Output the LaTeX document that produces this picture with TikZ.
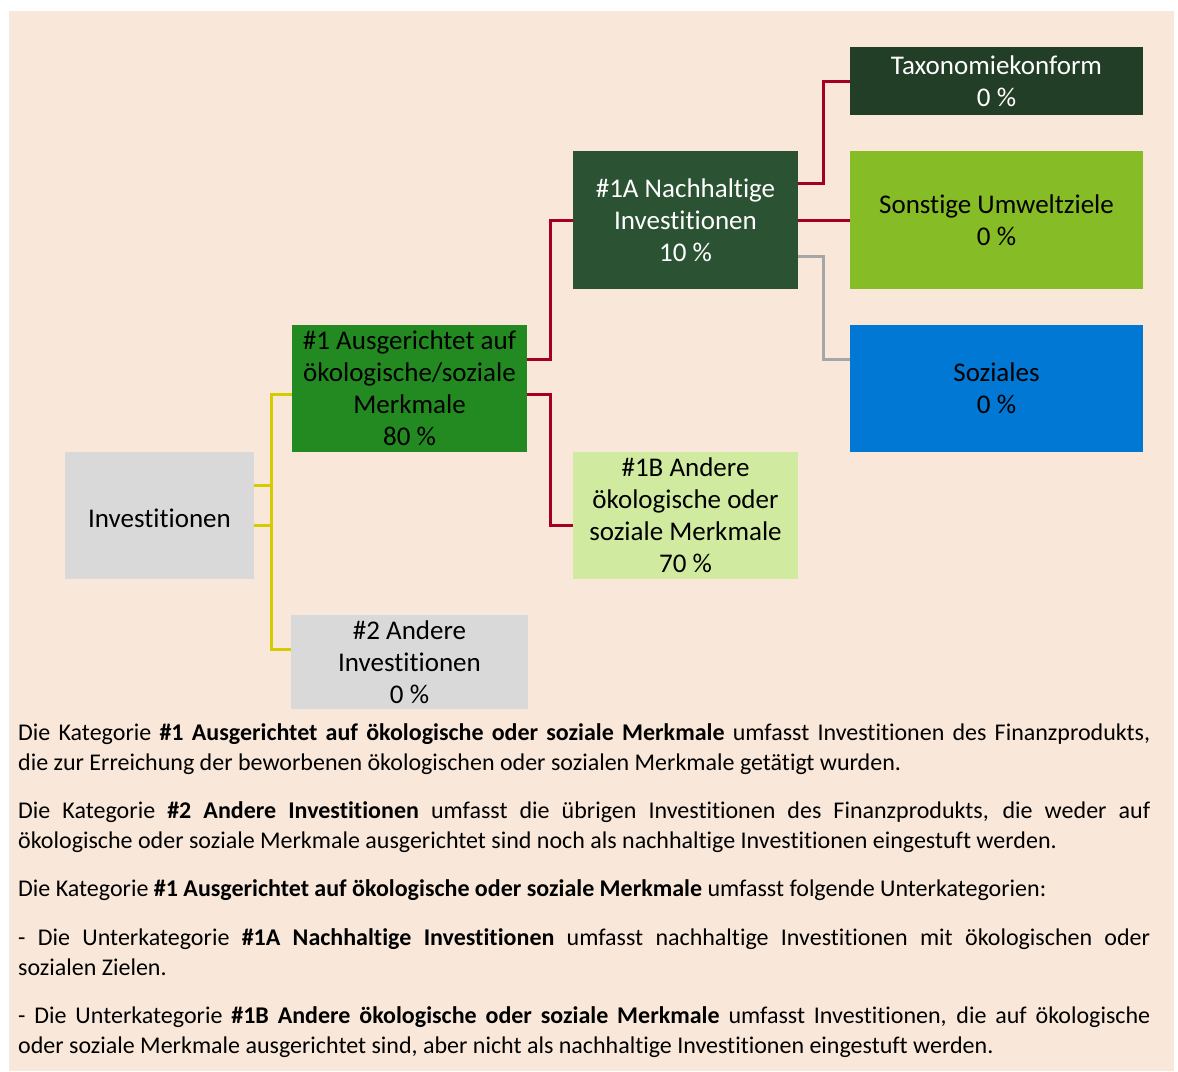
\documentclass[tikz,border=0pt]{standalone}
\usepackage{fontspec}
\setmainfont{Carlito}[Ligatures={NoCommon}]
\definecolor{bgpeach}{RGB}{249,232,217}
\definecolor{boxgray}{RGB}{217,217,217}
\definecolor{catgreen}{RGB}{35,138,34}
\definecolor{susgreen}{RGB}{44,82,52}
\definecolor{othergreen}{RGB}{208,235,160}
\definecolor{taxgreen}{RGB}{34,62,38}
\definecolor{envgreen}{RGB}{134,188,37}
\definecolor{socblue}{RGB}{0,120,212}
\definecolor{linered}{RGB}{165,0,33}
\definecolor{lineyellow}{RGB}{212,204,0}
\definecolor{linegray}{RGB}{166,166,166}
\begin{document}
\hyphenpenalty=10000
\exhyphenpenalty=10000
\begin{tikzpicture}[x=1pt, y=-1pt,
    box/.style={rectangle, inner sep=0pt, align=center, font=\fontsize{27}{32}\selectfont,
      execute at begin node=\rule{0pt}{25pt}},
    para/.style={anchor=base west, inner sep=0pt, text width=1132pt, align=justify,
      font=\fontsize{24}{30}\selectfont},
    redline/.style={draw=linered, line width=3pt},
    yellowline/.style={draw=lineyellow, line width=3pt},
    grayline/.style={draw=linegray, line width=3pt}]
  \useasboundingbox (0,0) rectangle (1178,1071);
  \fill [bgpeach] (9,11) rectangle (1174,1071);

  \node (inv) [box, fill=boxgray, minimum width=189pt, minimum height=127pt] at (159.5,515.5) {Investitionen};
  \node (cat1) [box, fill=catgreen, minimum width=235pt, minimum height=127pt] at (409.5,388.5) {\#1 Ausgerichtet auf\\ökologische/soziale\\Merkmale\\80~\%};
  \node (cat2) [box, fill=boxgray, minimum width=237pt, minimum height=94pt] at (409.5,662) {\#2 Andere\\Investitionen\\0~\%};
  \node (cat1a) [box, fill=susgreen, text=white, minimum width=225pt, minimum height=138pt] at (685.5,220) {\#1A Nachhaltige\\Investitionen\\10~\%};
  \node (cat1b) [box, fill=othergreen, minimum width=225pt, minimum height=127pt] at (685.5,515.5) {\#1B Andere\\ökologische oder\\soziale Merkmale\\70~\%};
  \node (taxo) [box, fill=taxgreen, text=white, minimum width=293pt, minimum height=68pt] at (996.5,81) {Taxonomiekonform\\0~\%};
  \node (env) [box, fill=envgreen, minimum width=293pt, minimum height=138pt] at (996.5,220) {Sonstige Umweltziele\\0~\%};
  \node (soc) [box, fill=socblue, minimum width=293pt, minimum height=127pt] at (996.5,388.5) {Soziales\\0~\%};

  \draw [yellowline] ([yshift=30.5pt]inv.east) -- ++(18,0);
  \draw [yellowline] ([yshift=-9.5pt]inv.east) -- ++(18,0);
  \draw [yellowline] ([yshift=-5.5pt]cat1.west) -- ++(-20,0) |- ([yshift=13pt]cat2.west);
  \draw [redline] ([yshift=29.5pt]cat1.east) -- ++(23,0) |- (cat1a.west);
  \draw [redline] ([yshift=-5.5pt]cat1.east) -- ++(23,0) |- ([yshift=-9.5pt]cat1b.west);
  \draw [redline] ([yshift=37pt]cat1a.east) -- ++(25,0) |- (taxo.west);
  \draw [redline] (cat1a.east) -- (env.west);
  \draw [grayline] ([yshift=-36pt]cat1a.east) -- ++(25,0) |- ([yshift=29.5pt]soc.west);

  \node (text1) [para] at (18,740) {Die Kategorie \textbf{\#1 Ausgerichtet auf ökologische oder soziale Merkmale} umfasst Investitionen des Finanzprodukts,\linebreak die zur Erreichung der beworbenen ökologischen oder sozialen Merkmale getätigt wurden.};
  \node (text2) [para] at (18,818) {Die Kategorie \textbf{\#2 Andere Investitionen} umfasst die übrigen Investitionen des Finanzprodukts, die weder auf\linebreak ökologische oder soziale Merkmale ausgerichtet sind noch als nachhaltige Investitionen eingestuft werden.};
  \node (text3) [para] at (18,896) {Die Kategorie \textbf{\#1 Ausgerichtet auf ökologische oder soziale Merkmale} umfasst folgende Unterkategorien:};
  \node (text4) [para] at (18,945) {- Die Unterkategorie \textbf{\#1A Nachhaltige Investitionen} umfasst nachhaltige Investitionen mit ökologischen oder\linebreak sozialen Zielen.};
  \node (text5) [para] at (18,1023) {- Die Unterkategorie \textbf{\#1B Andere ökologische oder soziale Merkmale} umfasst Investitionen, die auf ökologische\linebreak oder soziale Merkmale ausgerichtet sind, aber nicht als nachhaltige Investitionen eingestuft werden.};
\end{tikzpicture}
\end{document}
